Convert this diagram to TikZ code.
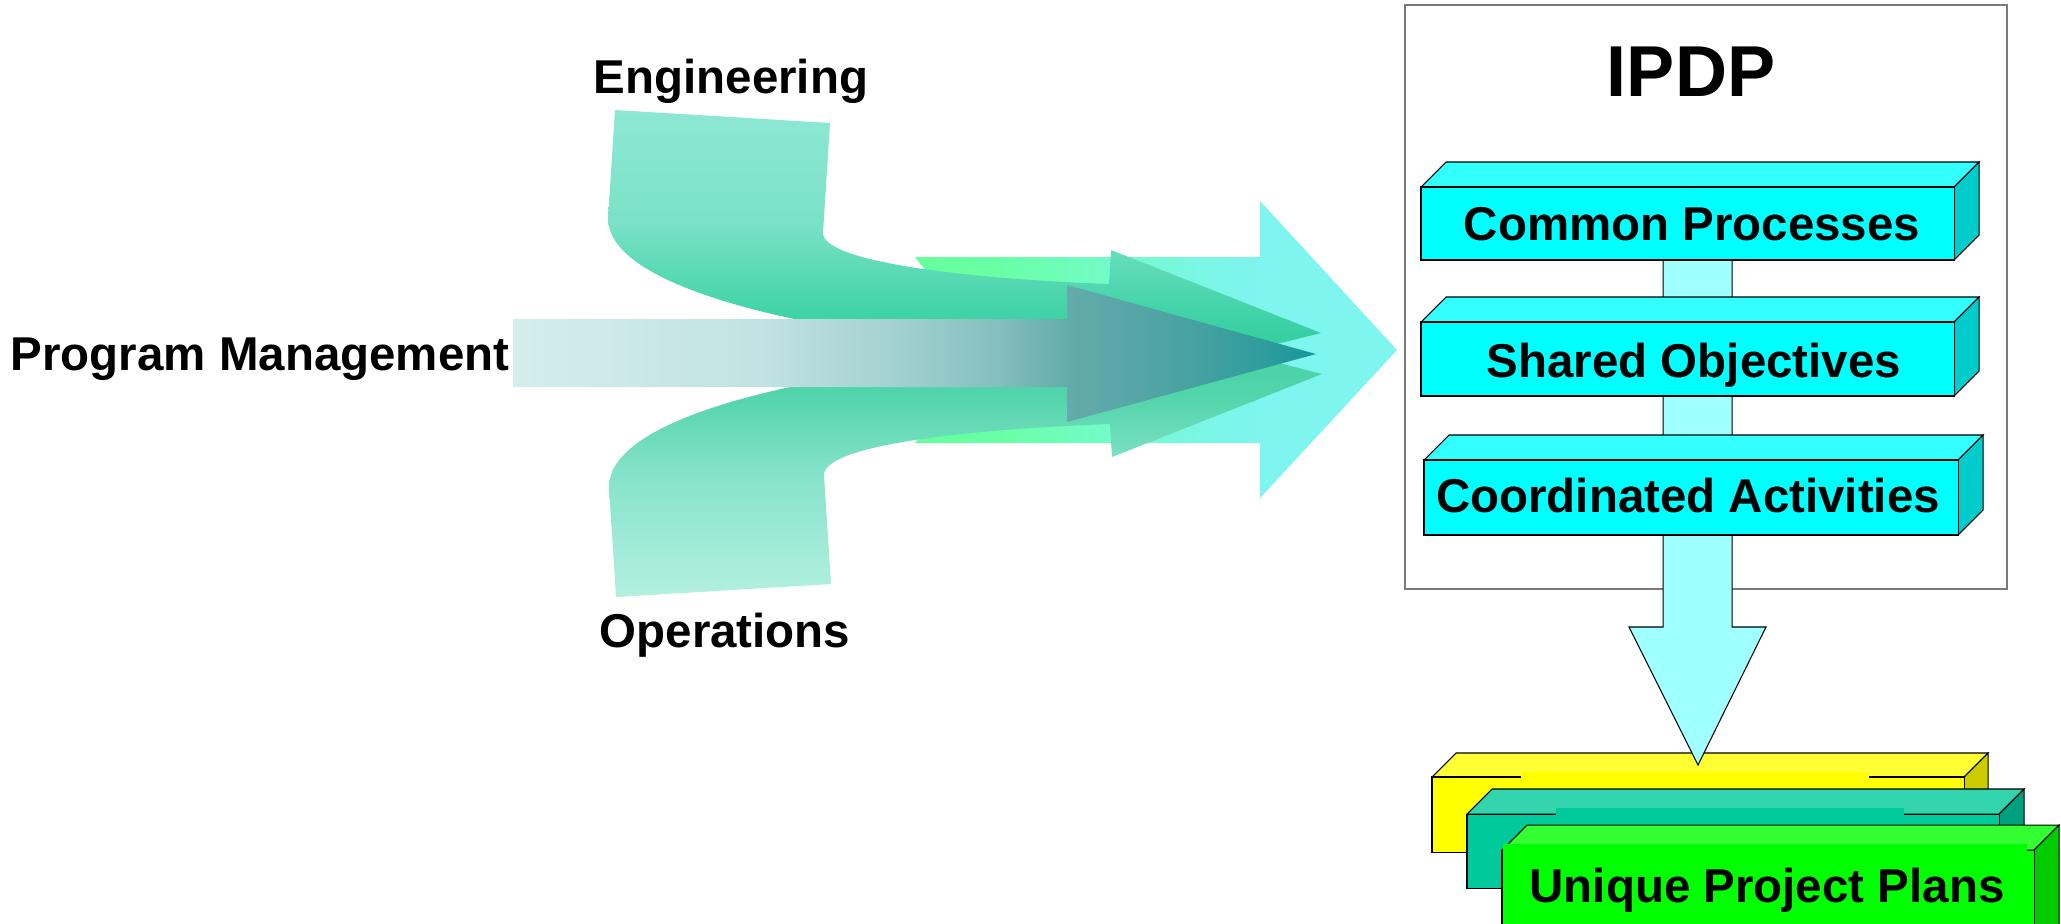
\documentclass[tikz,border=0pt]{standalone}
\usepackage{fontspec}
\setmainfont{Liberation Sans}

% face colours
\definecolor{cyfront}{HTML}{00FFFF}
\definecolor{cytop}{HTML}{33FFFF}
\definecolor{cyside}{HTML}{00CCCC}
\definecolor{flowcol}{HTML}{A0FFFF}
\definecolor{ylfront}{HTML}{FFFF00}
\definecolor{yltop}{HTML}{FFFF33}
\definecolor{ylside}{HTML}{CCCC00}
\definecolor{tlfront}{HTML}{00C99B}
\definecolor{tltop}{HTML}{33D5AF}
\definecolor{tlside}{HTML}{00A07E}
\definecolor{grfront}{HTML}{00FF00}
\definecolor{grtop}{HTML}{33FF33}
\definecolor{grside}{HTML}{00CC00}
\definecolor{framecol}{HTML}{7A7A7A}
% gradient stops: program management arrow
\definecolor{pmA}{HTML}{D4EDED}
\definecolor{pmB}{HTML}{C2E2E2}
\definecolor{pmC}{HTML}{A2D0D0}
\definecolor{pmD}{HTML}{84BEBE}
\definecolor{pmE}{HTML}{64ABAB}
\definecolor{pmF}{HTML}{4FA3A3}
\definecolor{pmG}{HTML}{2E9C9D}
\definecolor{pmH}{HTML}{12979A}
% gradient stops: large background arrow
\definecolor{bgA}{HTML}{66FF99}
\definecolor{bgB}{HTML}{6AFFA6}
\definecolor{bgC}{HTML}{72FBC6}
\definecolor{bgD}{HTML}{7AF6E4}
\definecolor{bgE}{HTML}{7EF5EF}
% gradient stops: engineering arrow (top to bottom)
\definecolor{enA}{HTML}{8EE8D3}
\definecolor{enB}{HTML}{7AE2C7}
\definecolor{enC}{HTML}{3DD2A5}
\definecolor{enD}{HTML}{22C999}
% gradient stops: operations arrow (top to bottom)
\definecolor{opA}{HTML}{3CCF9F}
\definecolor{opB}{HTML}{55D5AC}
\definecolor{opC}{HTML}{84E2C9}
\definecolor{opD}{HTML}{B4F0E0}

% a box with a visible top and right face
\newcommand{\drawslab}[8]{%
  \filldraw[fill=#7, slabline] (#1,#2) -- (#1+#5,#2-#5) -- (#3+#5,#2-#5) -- (#3,#2) -- cycle;
  \filldraw[fill=#8, slabline] (#3,#2) -- (#3+#5,#2-#5) -- (#3+#5,#4-#5) -- (#3,#4) -- cycle;
  \filldraw[fill=#6, slabline] (#1,#2) rectangle (#3,#4);
}

\begin{document}
\begin{tikzpicture}[x=0.01cm, y=-0.01cm,
  lbl/.style={font=\fontsize{13.5}{16}\selectfont\bfseries, inner sep=0pt, anchor=base},
  titlelbl/.style={font=\fontsize{20.5}{24}\selectfont\bfseries, inner sep=0pt, anchor=base},
  slabline/.style={draw=black, line width=0.3pt},
  hshade/.style={shading=axis, shading angle=90}]
\useasboundingbox (0,0) rectangle (2061,923);

% ---------- large notched arrow in the background ----------
\begin{scope}
  \clip (915,257) -- (1260,257) -- (1260,201) -- (1397,350) -- (1260,498)
        -- (1260,443) -- (915,443) -- (990,350) -- cycle;
  \shade[left color=bgA, right color=bgB] (900,190) rectangle (1001,510);
  \shade[left color=bgB, right color=bgC] (1000,190) rectangle (1101,510);
  \shade[left color=bgC, right color=bgD] (1100,190) rectangle (1201,510);
  \shade[left color=bgD, right color=bgE] (1200,190) rectangle (1261,510);
  \fill[bgE] (1260,190) rectangle (1400,510);
\end{scope}

% ---------- engineering arrow (bends down from the top) ----------
\begin{scope}
  \clip (615,110) -- (830,123) -- (823,233)
        .. controls (823,260) and (950,278) .. (1109,284)
        -- (1111,250) -- (1321,333) -- (1111,385) -- (1109,352) -- (1000,350)
        .. controls (760,325) and (608,280) .. (608,218) -- cycle;
  \shade[top color=enA, bottom color=enB] (600,105) rectangle (1330,221);
  \shade[top color=enB, bottom color=enC] (600,220) rectangle (1330,320);
  \shade[top color=enC, bottom color=enD] (600,319) rectangle (1330,400);
\end{scope}

% ---------- operations arrow (bends up from the bottom) ----------
\begin{scope}
  \clip (616,597) -- (831,584) -- (824,475)
        .. controls (824,447) and (950,430) .. (1110,424)
        -- (1112,457) -- (1322,374) -- (1111,320) -- (1109,355) -- (1000,355)
        .. controls (760,380) and (609,425) .. (609,487) -- cycle;
  \shade[top color=opA, bottom color=opB] (600,310) rectangle (1330,401);
  \shade[top color=opB, bottom color=opC] (600,400) rectangle (1330,471);
  \shade[top color=opC, bottom color=opD] (600,470) rectangle (1330,600);
\end{scope}

% ---------- program management arrow ----------
\begin{scope}
  \clip (513,319) -- (1067,319) -- (1067,285) -- (1316,354) -- (1067,422)
        -- (1067,387) -- (513,387) -- cycle;
  \shade[left color=pmA, right color=pmB] (510,280) rectangle (761,430);
  \shade[left color=pmB, right color=pmC] (760,280) rectangle (901,430);
  \shade[left color=pmC, right color=pmD] (900,280) rectangle (1001,430);
  \shade[left color=pmD, right color=pmE] (1000,280) rectangle (1068,430);
  \shade[left color=pmE, right color=pmF] (1067,280) rectangle (1168,430);
  \shade[left color=pmF, right color=pmG] (1167,280) rectangle (1268,430);
  \shade[left color=pmG, right color=pmH] (1267,280) rectangle (1320,430);
\end{scope}

% ---------- labels of the three streams ----------
\node[lbl] (eng) at (731,93) {Engineering};
\node[lbl] (pm)  at (260,370) {Program Management};
\node[lbl] (ops) at (725,647) {Operations};

% ---------- stacked project plans ----------
\drawslab{1432}{777}{1964}{852}{24}{ylfront}{yltop}{ylside}
\fill[ylfront] (1521,772) rectangle (1869,778);
\drawslab{1467}{814}{1999}{888}{25}{tlfront}{tltop}{tlside}
\fill[tlfront] (1556,808) rectangle (1904,815);
\drawslab{1502}{850}{2034}{960}{25}{grfront}{grtop}{grside}
\fill[grfront] (1503,844) rectangle (2027,851);
\node[lbl] (upp) at (1767,902) {Unique Project Plans};

% ---------- IPDP frame ----------
\filldraw[fill=white, draw=framecol, line width=0.5pt] (1405,5) rectangle (2007,589);
\node[titlelbl] (ipdp) at (1691,96) {IPDP};

% ---------- flow bar ending in a downward arrow ----------
\filldraw[fill=flowcol, draw=black, line width=0.3pt]
  (1663,250) -- (1663,627) -- (1629,627) -- (1698,765) -- (1766,627)
  -- (1732,627) -- (1732,250);

% ---------- IPDP components ----------
\drawslab{1421}{187}{1954}{260}{25}{cyfront}{cytop}{cyside}
\drawslab{1421}{322}{1954}{396}{25}{cyfront}{cytop}{cyside}
\drawslab{1424}{460}{1958}{535}{25}{cyfront}{cytop}{cyside}
\node[lbl] (cp) at (1692,240) {Common Processes};
\node[lbl] (so) at (1694,377) {Shared Objectives};
\node[lbl] (ca) at (1688,512) {Coordinated Activities};
\end{tikzpicture}
\end{document}
